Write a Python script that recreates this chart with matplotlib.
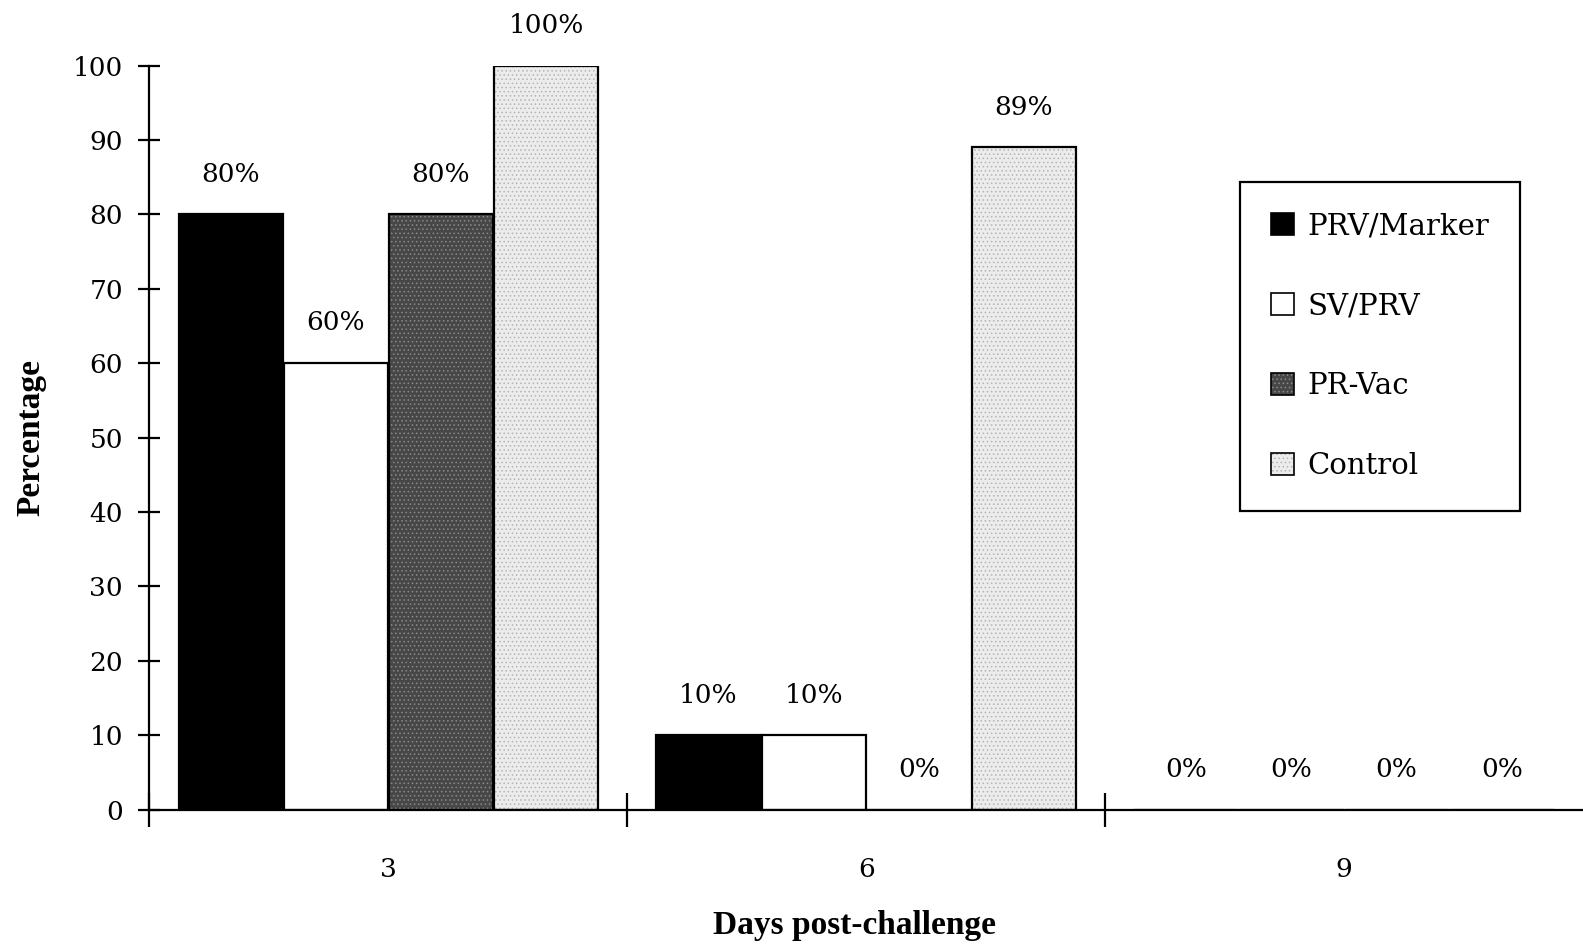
import numpy as np
import matplotlib.pyplot as plt
from matplotlib.patches import Patch
from matplotlib.legend_handler import HandlerTuple

# Données : pourcentage par jour après l'épreuve
jours = ['3', '6', '9']
groupes = ['PRV/Marker', 'SV/PRV', 'PR-Vac', 'Control']
prv_marker = [80, 10, 0]
sv_prv = [60, 10, 0]
pr_vac = [80, 0, 0]
control = [100, 89, 0]
series = [prv_marker, sv_prv, pr_vac, control]

# Styles des barres : (fond, hachure, couleur de hachure)
styles = [
    ('black', None, 'black'),
    ('white', None, 'white'),
    ('#474747', '....', '#8a8a8a'),
    ('#ececec', '....', '#b4b4b4'),
]

plt.rcParams['font.family'] = 'DejaVu Serif'
plt.rcParams['hatch.linewidth'] = 0.6
gras = {'family': 'Liberation Serif', 'weight': 'bold'}

fig = plt.figure(figsize=(15.83, 9.47), dpi=100)
ax = fig.add_axes([0.0944, 0.145, 0.9056, 0.7857])

centres = np.arange(len(jours)) + 0.5
largeur = 0.218
for i, (vals, (face, hatch, hcol)) in enumerate(zip(series, styles)):
    x = centres + (i - 1.5) * 0.22
    ax.bar(x, vals, largeur, color=face, hatch=hatch, edgecolor=hcol, linewidth=0, zorder=2)
    ax.bar(x, vals, largeur, fill=False, edgecolor='black', linewidth=1.6, zorder=3)
    for xi, v in zip(x, vals):
        ax.annotate(f"{v}%", (xi, v), xytext=(0, 29), textcoords='offset points',
                    ha='center', va='center', fontsize=19)

ax.set_xlim(0, 3)
ax.set_ylim(0, 100)
ax.set_yticks(np.arange(0, 101, 10))
ax.set_xticks([0, 1, 2])
ax.set_xticklabels([])
ax.set_xticks(centres, minor=True)
ax.set_xticklabels(jours, minor=True)

ax.tick_params(axis='y', direction='inout', length=16, width=1.6, labelsize=19, pad=11)
ax.tick_params(axis='x', which='major', direction='inout', length=24, width=1.6)
ax.tick_params(axis='x', which='minor', length=0, labelsize=19, pad=34)

for s in ['top', 'right']:
    ax.spines[s].set_visible(False)
for s in ['left', 'bottom']:
    ax.spines[s].set_linewidth(1.6)
ax.spines['bottom'].set_zorder(4)

ax.set_ylabel('Percentage', fontsize=24, **gras)
ax.yaxis.set_label_coords(-0.072, 0.5)
ax.set_xlabel('Days post-challenge', fontsize=24, **gras)
ax.xaxis.set_label_coords(0.492, -0.135)

# Légende avec motifs superposés au contour
poignees = [(Patch(facecolor=f, hatch=h, edgecolor=c, linewidth=0),
             Patch(fill=False, edgecolor='black', linewidth=1.2))
            for f, h, c in styles]
leg = ax.legend(poignees, groupes, handler_map={tuple: HandlerTuple(ndivide=1)},
                loc='upper left', bbox_to_anchor=(0.761, 0.844), fontsize=21,
                frameon=True, fancybox=False, edgecolor='black', framealpha=1,
                handlelength=0.8, handleheight=0.8, handletextpad=0.45,
                labelspacing=1.78, borderpad=1.05, borderaxespad=0)
leg.get_frame().set_linewidth(1.6)

fig.savefig('out.png', dpi=100, facecolor='white')
